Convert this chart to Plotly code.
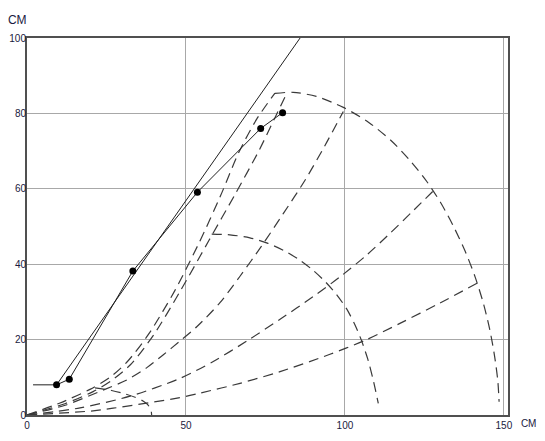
import plotly.graph_objects as go

# measured points (black dots) and the connecting polyline
pts_x = [9.3, 13.3, 33.3, 53.6, 73.5, 80.4]
pts_y = [8.0, 9.5, 38.2, 59.1, 76.0, 80.2]
lead_x = [1.9, 9.3]
lead_y = [8.0, 8.0]

# straight fitted line
fit_x = [9.3, 85.9]
fit_y = [8.0, 100.0]

# dashed curves
outer_x = [78.0, 83.7, 91.0, 99.5, 107.5, 114.5, 120.5, 125.7, 130.0, 134.0, 137.8, 141.0, 143.6, 145.6, 147.1, 148.1, 148.5]
outer_y = [85.3, 85.6, 84.5, 81.6, 77.6, 72.8, 67.5, 62.0, 56.5, 50.3, 43.5, 36.5, 29.5, 22.5, 15.5, 9.0, 3.5]

mid_x = [58.1, 63.8, 70.1, 75.6, 80.8, 85.8, 90.1, 94.0, 97.5, 100.5, 103.0, 105.2, 107.2, 108.9, 110.5]
mid_y = [48.0, 47.8, 47.0, 45.6, 43.6, 41.1, 38.3, 35.2, 31.8, 28.2, 24.2, 19.8, 14.8, 9.3, 3.1]

inner_x = [21.4, 26.6, 30.8, 34.0, 36.5, 38.1, 39.0, 39.2]
inner_y = [7.2, 6.5, 5.6, 4.7, 3.7, 2.6, 1.3, 0.0]

ray_a_x = [0, 10.4, 19.8, 26.1, 31.6, 38.3, 46.5, 54.2, 60.8, 66.6, 72.2, 78.0]
ray_a_y = [0, 3.2, 6.8, 10.0, 14.2, 21.5, 33.0, 45.8, 58.0, 69.6, 78.4, 85.4]

ray_b_x = [0, 11.9, 20.8, 27.0, 32.6, 39.8, 48.3, 57.3, 65.5, 73.0, 78.3, 81.7]
ray_b_y = [0, 3.0, 6.2, 9.4, 13.4, 21.2, 33.0, 46.4, 58.6, 70.2, 79.4, 85.3]

ray_c_x = [0, 12.0, 24.5, 31.4, 37.6, 42.9, 48.1, 53.4, 60.7, 67.0, 73.6, 80.6, 87.4, 93.6, 99.5]
ray_c_y = [0, 2.6, 6.8, 9.3, 12.5, 16.0, 19.6, 23.4, 29.8, 36.8, 44.6, 53.4, 62.2, 71.3, 80.5]

ray_d_x = [0, 16.7, 32.4, 48.1, 58.6, 69.1, 79.6, 90.0, 98.4, 106.8, 114.2, 121.5, 128.6]
ray_d_y = [0, 1.9, 5.0, 9.7, 14.2, 19.6, 25.4, 31.4, 36.6, 42.4, 48.2, 54.2, 60.1]

ray_e_x = [0, 20.8, 27.1, 48.1, 54.4, 67.0, 79.6, 95.3, 106.3, 117.3, 129.9, 142.1]
ray_e_y = [0, 1.1, 1.8, 4.6, 5.8, 8.4, 11.5, 16.1, 19.8, 24.3, 29.7, 35.2]

x_ticks = [0, 50, 100, 150]
y_ticks = [0, 20, 40, 60, 80, 100]

fig = go.Figure()

dash_style = dict(color='#3a3a3a', width=1.2, dash='10px,6px', shape='spline', smoothing=0.8)
for cx, cy in [(outer_x, outer_y), (mid_x, mid_y), (inner_x, inner_y),
               (ray_a_x, ray_a_y), (ray_b_x, ray_b_y), (ray_c_x, ray_c_y),
               (ray_d_x, ray_d_y), (ray_e_x, ray_e_y)]:
    fig.add_trace(go.Scatter(x=cx, y=cy, mode='lines', line=dash_style,
                             hoverinfo='skip'))

# solid lines
fig.add_trace(go.Scatter(x=fit_x, y=fit_y, mode='lines',
                         line=dict(color='#202020', width=1)))
fig.add_trace(go.Scatter(x=lead_x, y=lead_y, mode='lines',
                         line=dict(color='#202020', width=1)))
fig.add_trace(go.Scatter(x=pts_x, y=pts_y, mode='lines+markers',
                         line=dict(color='#202020', width=1),
                         marker=dict(size=7, color='black')))

axis_common = dict(
    showgrid=True, gridcolor='#a8a8a8', gridwidth=1,
    showline=True, linecolor='#505050', linewidth=2, mirror=True,
    zeroline=False, ticks='', automargin=False,
    tickfont=dict(family='Liberation Sans', size=10, color='#1a1a40'),
)

# the page body adds an 8px offset, so the figure is 8px smaller and margins
# are set so the plot area lands at x 27..508, y 38..415 in the window
body = 8
fw, fh = 545 - body, 441 - body
left, top = 27 - body, 38 - body
pw, ph = 481, 377
right, bottom = fw - left - pw, fh - top - ph

unit_font = dict(family='Liberation Sans', color='#1a1a40')

fig.update_layout(
    width=fw, height=fh,
    template='plotly_white',
    showlegend=False,
    plot_bgcolor='white',
    margin=dict(l=left, r=right, t=top, b=bottom, autoexpand=False),
    xaxis=dict(range=[0, 151.3], tickvals=x_ticks, **axis_common),
    yaxis=dict(range=[0, 100], tickvals=y_ticks, ticklabelstandoff=-3, **axis_common),
    annotations=[
        dict(text='СМ', x=(17 - 27) / pw, y=(415 - 20) / ph,
             xref='paper', yref='paper', showarrow=False,
             xanchor='center', yanchor='middle',
             font=dict(size=12, **unit_font)),
        dict(text='СМ', x=(528 - 27) / pw, y=(415 - 423) / ph,
             xref='paper', yref='paper', showarrow=False,
             xanchor='center', yanchor='middle',
             font=dict(size=10, **unit_font)),
    ],
)

fig.write_html("out.html")
